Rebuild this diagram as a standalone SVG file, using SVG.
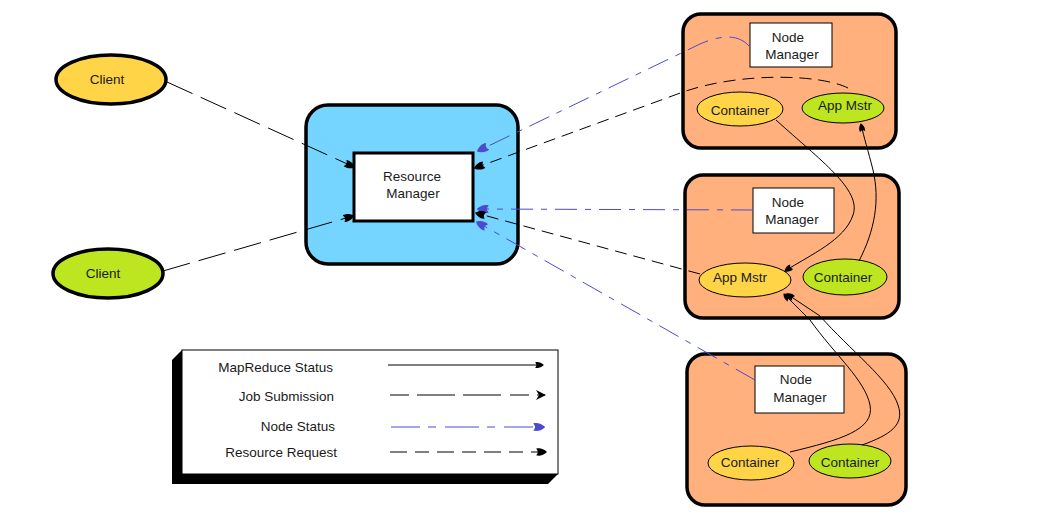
<svg xmlns="http://www.w3.org/2000/svg" width="1043" height="520" viewBox="0 0 1043 520">
<style>
text{font-family:"Liberation Sans",Arial,sans-serif;font-size:13.5px;fill:#1a1a1a;text-anchor:middle;dominant-baseline:central}
.thick{stroke:#000;stroke-width:3.5}
.thin{stroke:#000;stroke-width:1}
.yel{fill:#FFD447}
.grn{fill:#BDE620}
.node{fill:#FFB07D;stroke:#000;stroke-width:3.5}
.nm{fill:#fff;stroke:#000;stroke-width:1}
.c{fill:none;stroke-width:1}
.job{stroke:#000;stroke-dasharray:28 9}
.req{stroke:#000;stroke-dasharray:12 7}
.ns{stroke:#4B4BD2;stroke-dasharray:22 8 6 8}
.mr{stroke:#000}
</style>
<defs>
<marker id="mb" viewBox="0 0 10 8" refX="9" refY="4" markerWidth="11" markerHeight="9" markerUnits="userSpaceOnUse" orient="auto">
<path d="M0,1 C3,0 7,1 10,4 C7,7 3,8 0,7 C2,5 2,3 0,1Z" fill="#000"/>
</marker>
<marker id="ml" viewBox="0 0 10 8" refX="9" refY="4" markerWidth="13" markerHeight="7" markerUnits="userSpaceOnUse" orient="auto">
<path d="M0,1 C3,0 7,1 10,4 C7,7 3,8 0,7 C2,5 2,3 0,1Z" fill="#000"/>
</marker>
<marker id="mu" viewBox="0 0 10 8" refX="9" refY="4" markerWidth="12" markerHeight="10" markerUnits="userSpaceOnUse" orient="auto">
<path d="M0,1 C3,0 7,1 10,4 C7,7 3,8 0,7 C2,5 2,3 0,1Z" fill="#4B4BD2"/>
</marker>
<marker id="mc" viewBox="0 0 10 10" refX="9" refY="5" markerWidth="10" markerHeight="10" markerUnits="userSpaceOnUse" orient="auto">
<path d="M0,0 L10,5 L0,10 L3,5Z" fill="#000"/>
</marker>
</defs>

<g id="client1"><ellipse cx="111" cy="79.5" rx="55" ry="24.5" class="yel thick"/><text x="107" y="79">Client</text></g>
<g id="client2"><ellipse cx="108" cy="273.5" rx="55" ry="24.5" class="grn thick"/><text x="103" y="273">Client</text></g>

<g id="rm">
<rect x="306" y="105" width="212" height="159" rx="22" fill="#75D5FF" class="thick"/>
<rect x="354" y="153" width="119" height="68" fill="#fff" stroke="#000" stroke-width="3"/>
<text x="412" y="176">Resource</text><text x="413" y="193">Manager</text>
</g>

<g id="node1">
<rect x="683" y="14" width="213" height="134" rx="18" class="node"/>
<rect x="750" y="23" width="82" height="44" class="nm"/>
<text x="788" y="37">Node</text><text x="792" y="54">Manager</text>
<ellipse cx="740" cy="109" rx="43" ry="17" class="yel thin"/><text x="740" y="110">Container</text>
<ellipse cx="843" cy="108" rx="41" ry="15" class="grn thin"/><text x="845" y="105">App Mstr</text>
</g>

<g id="node2">
<rect x="685" y="175" width="214" height="143" rx="18" class="node"/>
<rect x="753" y="188" width="81" height="45" class="nm"/>
<text x="788" y="202">Node</text><text x="792" y="219">Manager</text>
<ellipse cx="745" cy="280" rx="46" ry="17" class="yel thin"/><text x="740" y="277">App Mstr</text>
<ellipse cx="845" cy="277" rx="42" ry="18" class="grn thin"/><text x="843" y="277">Container</text>
</g>

<g id="node3">
<rect x="687" y="354" width="219" height="151" rx="18" class="node"/>
<rect x="755" y="366" width="89" height="47" class="nm"/>
<text x="796" y="379">Node</text><text x="800" y="397">Manager</text>
<ellipse cx="751" cy="463" rx="43" ry="17" class="yel thin"/><text x="750" y="462">Container</text>
<ellipse cx="850" cy="461" rx="41" ry="17" class="grn thin"/><text x="850" y="462">Container</text>
</g>

<g id="connectors">
<path class="c job" d="M167 82 L354 167" marker-end="url(#mb)"/>
<path class="c job" d="M163 271 L353 216" marker-end="url(#mb)"/>
<path class="c ns" d="M749 46 C740 36 725 33 700 44 L478 151" marker-end="url(#mu)"/>
<path class="c req" d="M848 88 C820 74 740 72 683 92 L475 168" marker-end="url(#mb)"/>
<path class="c ns" d="M753 210 L478 209" marker-end="url(#mu)"/>
<path class="c req" d="M700 274 L476 213" marker-end="url(#mb)"/>
<path class="c ns" d="M755 380 L477 222" marker-end="url(#mu)"/>
<path class="c mr" d="M776 120 C820 160 862 190 853 215 C845 240 810 255 785 271" marker-end="url(#ml)"/>
<path class="c mr" d="M859 261 C875 230 880 200 873 170 C868 150 864 138 861 124" marker-end="url(#ml)"/>
<path class="c mr" d="M790 452 C840 440 875 430 870 405 C865 380 835 355 810 320 L784 294" marker-end="url(#ml)"/>
<path class="c mr" d="M862 445 C890 435 905 425 898 405 C890 380 850 350 820 316 L787 294" marker-end="url(#ml)"/>
</g>

<g id="legend">
<polygon points="182,350 172,360 172,484 548,484 558,474 558,350" fill="#000"/>
<rect x="182" y="350" width="376" height="124" fill="#fff" stroke="#000" stroke-width="1"/>
<text x="333" y="367" style="text-anchor:end">MapReduce Status</text>
<text x="334" y="396" style="text-anchor:end">Job Submission</text>
<text x="335" y="426" style="text-anchor:end">Node Status</text>
<text x="337" y="452" style="text-anchor:end">Resource Request</text>
<path class="c mr" d="M388 365 L543 365" marker-end="url(#ml)"/>
<path class="c" stroke="#000" stroke-dasharray="19 8 38 8 38 9" d="M390 395 L545 395" marker-end="url(#mc)"/>
<path class="c" stroke="#4B4BD2" stroke-dasharray="29 8 8 9 34 8 8 9" d="M391 427 L544 427" marker-end="url(#mu)"/>
<path class="c" stroke="#000" stroke-dasharray="17 8 14 8" d="M390 452 L546 452" marker-end="url(#mb)"/>
</g>
</svg>
